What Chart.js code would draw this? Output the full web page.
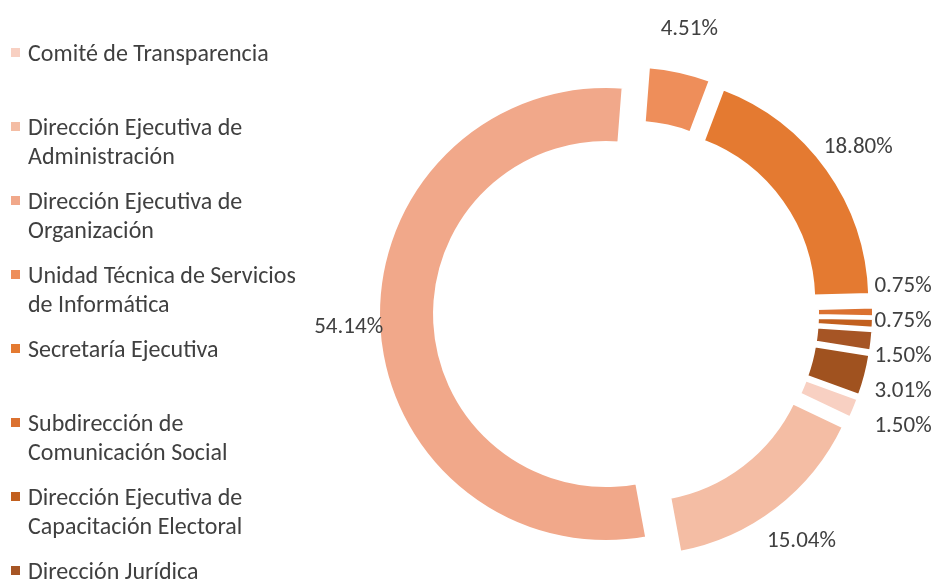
<!DOCTYPE html>
<html lang="es">
<head>
<meta charset="utf-8">
<title>Distribución por área</title>
<script src="https://cdn.jsdelivr.net/npm/chart.js@4.4.1/dist/chart.umd.min.js"></script>
<style>
  html,body{margin:0;padding:0;background:#fff;overflow:hidden;}
  #wrap{position:relative;width:938px;height:584px;overflow:hidden;}
  #chart{position:absolute;left:0;top:0;}
  #legend{position:absolute;left:11px;top:38px;font-family:Carlito,Calibri,Lato,sans-serif;font-size:24px;color:#404040;}
  .lg-item{position:relative;height:74px;padding-left:17px;line-height:29px;white-space:nowrap;}
  .lg-box{position:absolute;left:0;top:10px;width:9px;height:9px;}
</style>
</head>
<body>
<div id="wrap">
  <canvas id="chart" width="938" height="584"></canvas>
  <div id="legend"></div>
</div>
<script>
/* Doughnut: share per área, labels outside, legend on the left */

// legend text, one entry per line as shown
const AREAS = [
  ["Comité de Transparencia"],
  ["Dirección Ejecutiva de", "Administración"],
  ["Dirección Ejecutiva de", "Organización"],
  ["Unidad Técnica de Servicios", "de Informática"],
  ["Secretaría Ejecutiva"],
  ["Subdirección de", "Comunicación Social"],
  ["Dirección Ejecutiva de", "Capacitación Electoral"],
  ["Dirección Jurídica"],
  ["Otras áreas"]
];
const SHARES = [1.50, 15.04, 54.14, 4.51, 18.80, 0.75, 0.75, 1.50, 3.01];
const COLORS = ["#F8D0C2","#F4BDA4","#F1A88A","#EE8E5A","#E47A31","#DB7130","#C2601F","#A65525","#A0521F"];

const EXPLODE = 20;      // px each slice is pushed out from the centre
const TEXT = "#404040";
const FONT = "Carlito, Calibri, Lato, sans-serif";

// legend
const lg = document.getElementById("legend");
lg.innerHTML = AREAS.map((lines,i)=>
  `<div class="lg-item"><span class="lg-box" style="background:${COLORS[i]}"></span>${lines.join("<br>")}</div>`
).join("");

// chart.js "offset" also grows the radius, so push slices out by hand instead
const explode = {
  id: "explode",
  beforeDatasetDraw(chart, args){
    const ctx = chart.ctx;
    args.meta.data.forEach(arc=>{
      const a = (arc.startAngle + arc.endAngle)/2;
      ctx.save();
      ctx.translate(Math.cos(a)*EXPLODE, Math.sin(a)*EXPLODE);
      arc.draw(ctx);
      ctx.restore();
    });
    return false;
  }
};

// percent labels around the ring
const pctLabels = {
  id: "pctLabels",
  afterDatasetsDraw(chart){
    const ctx = chart.ctx;
    const arcs = chart.getDatasetMeta(0).data;
    const items = arcs.map((arc,i)=>{
      const a = (arc.startAngle + arc.endAngle)/2;
      let r = arc.outerRadius + 49;
      const right = Math.cos(a) > 0.9;
      if (!right) r += 14*Math.abs(Math.sin(a));
      return {i, a, right, x: arc.x + Math.cos(a)*r, y: arc.y + Math.sin(a)*r};
    });
    // crowded small slices on the right: stack them
    const stack = items.filter(p=>p.right).sort((p,q)=>p.y-q.y);
    const MIN_GAP = 35;
    for (let k=0;k<80;k++){
      for (let j=1;j<stack.length;j++){
        const gap = stack[j].y - stack[j-1].y;
        if (gap < MIN_GAP){
          const push = (MIN_GAP-gap)/2;
          stack[j].y += push; stack[j-1].y -= push;
        }
      }
    }
    const x0 = arcs[0].x + arcs[0].outerRadius + 49;
    stack.forEach(p=>{ p.x = x0; });

    ctx.save();
    ctx.font = "23px " + FONT;
    ctx.fillStyle = TEXT;
    ctx.textAlign = "center";
    ctx.textBaseline = "middle";
    items.forEach(p=>{
      ctx.fillText(SHARES[p.i].toFixed(2) + "%", p.x, p.y);
    });
    ctx.restore();
  }
};

new Chart(document.getElementById("chart"), {
  type: "doughnut",
  data: {
    labels: AREAS.map(l=>l.join(" ")),
    datasets: [{
      data: SHARES,
      backgroundColor: COLORS,
      borderColor: "#ffffff",
      borderWidth: 4,
      borderJoinStyle: "miter",
      offset: 0,
      hoverOffset: 0
    }]
  },
  options: {
    responsive: false,
    animation: false,
    rotation: 110,
    radius: 228,
    cutout: "75%",
    layout: {padding: {left: 314, top: 42, right: 0, bottom: 0}},
    plugins: {legend: {display: false}, tooltip: {enabled: false}}
  },
  plugins: [explode, pctLabels]
});
</script>
</body>
</html>
